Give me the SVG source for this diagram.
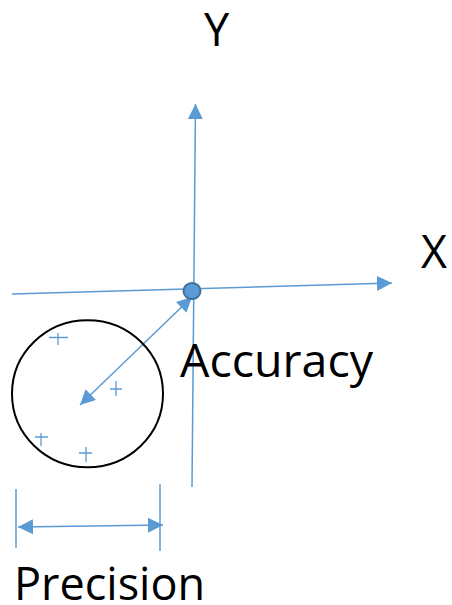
<svg xmlns="http://www.w3.org/2000/svg" width="452" height="605" viewBox="0 0 452 605">
<style>
.ax{stroke:#5b9bd5;stroke-width:1.5;fill:none}
.pl{stroke:#5b9bd5;stroke-width:1.3;fill:none}
.lbl{font-family:"Open Sans","Noto Sans",sans-serif;font-size:45px;fill:#000}
</style>
<defs>
<marker id="big" viewBox="0 0 10 10" refX="10" refY="5" markerWidth="15" markerHeight="15" markerUnits="userSpaceOnUse" orient="auto-start-reverse">
<path d="M0,0 L10,5 L0,10 Z" fill="#5b9bd5"/>
</marker>
</defs>
<rect width="452" height="605" fill="#fff"/>
<g id="connectors">
<line class="ax" x1="192" y1="487" x2="195.5" y2="104" marker-end="url(#big)"/>
<line class="ax" x1="12" y1="294" x2="392" y2="283" marker-end="url(#big)"/>
<line class="ax" x1="192" y1="297" x2="80" y2="405" marker-start="url(#big)" marker-end="url(#big)"/>
<line class="ax" x1="16" y1="489" x2="16" y2="548"/>
<line class="ax" x1="160" y1="484" x2="160" y2="551"/>
<line class="ax" x1="18" y1="527" x2="163" y2="525" marker-start="url(#big)" marker-end="url(#big)"/>
</g>
<g id="origin">
<ellipse cx="192" cy="291" rx="8.5" ry="8" fill="#5b9bd5" stroke="#41719c" stroke-width="2"/>
</g>
<g id="precision-circle">
<ellipse cx="87.5" cy="393.7" rx="75.5" ry="73.5" fill="none" stroke="#000" stroke-width="2"/>
</g>
<g id="points">
<path class="pl" d="M49,337.5 H68 M58,333 V345"/>
<path class="pl" d="M110,389 H122 M116,381 V396"/>
<path class="pl" d="M35,437 H48 M41,433 V446"/>
<path class="pl" d="M79,453 H92 M86,447 V462"/>
</g>
<g id="labels">
<text class="lbl" x="204" y="46">Y</text>
<text class="lbl" x="421" y="268">X</text>
<text class="lbl" x="180" y="377" textLength="193" lengthAdjust="spacingAndGlyphs">Accuracy</text>
<text class="lbl" x="14" y="600">Precision</text>
</g>
</svg>
